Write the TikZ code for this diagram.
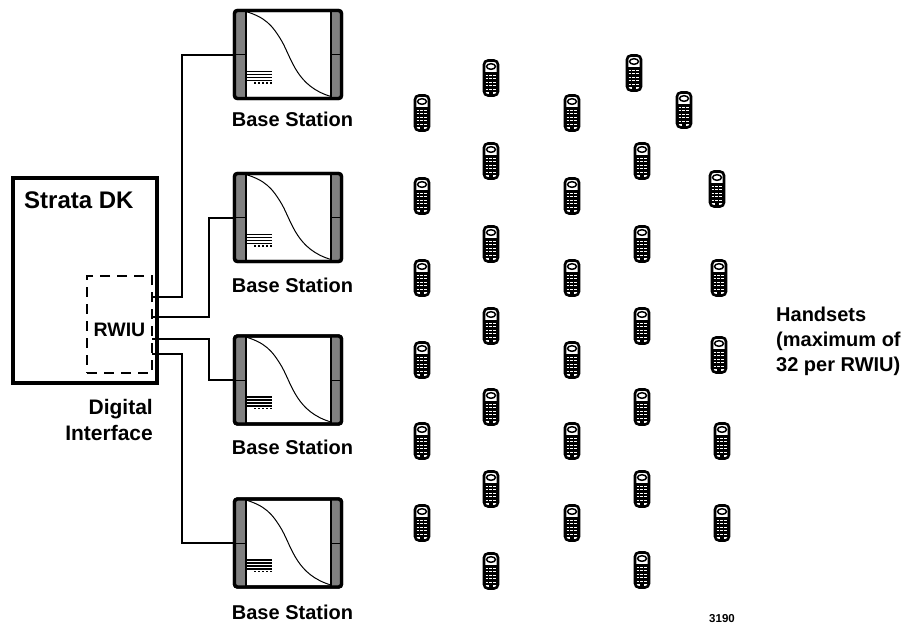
\documentclass[tikz,border=0pt]{standalone}
\usepackage{fontspec}
\setmainfont{Liberation Sans}
\usetikzlibrary{positioning}
\tikzset{
  basebox/.style={draw, line width=3.4pt, rounded corners=3pt, minimum width=107pt, minimum height=88pt, inner sep=0pt},
  label/.style={font=\bfseries\fontsize{20}{25}\selectfont, align=left, inner sep=0pt},
  wire/.style={line width=2pt},
  pics/handset/.style={code={
    \draw[line width=2.6pt, rounded corners=4pt, fill=white] (-7,-17.5) rectangle (7,17.5);
    \fill (-7,-6.5) rectangle (7,13.5);
    \draw[line width=1.5pt] (0,-11.5) ellipse (4.5pt and 2.8pt);
    \foreach \row in {-3,0.5,4,7.5,11}
      \draw[white, line width=0.7pt, dash pattern=on 2.4pt off 1.4pt] (-5.5,\row) -- (5.5,\row);
    \fill (-2,14) rectangle (2,17);
  }}
}
\begin{document}
\begin{tikzpicture}[x=1pt, y=-1pt]
  \useasboundingbox (0,0) rectangle (904,624);

  \node[draw, line width=4pt, minimum width=144pt, minimum height=205pt, inner sep=0pt] (dk) at (84.5,280) {};
  \node[label, font=\bfseries\fontsize{24}{28}\selectfont, anchor=west] (dkname) at (24,200) {Strata DK};
  \node[draw, dash pattern=on 10pt off 7pt, line width=1.6pt, minimum width=65pt, minimum height=97pt, inner sep=0pt] (rwiu) at (119.5,324.5) {};
  \node[label, font=\bfseries\fontsize{19.5}{24}\selectfont] (rwiuname) at (119.5,330) {RWIU};
  \node[label, font=\bfseries\fontsize{21}{26}\selectfont, align=right, anchor=north east] (digital) at (153,399) {Digital\\Interface};

  \foreach \i/\ypos/\ylabel in {1/54.5/119, 2/217.5/285, 3/380/447, 4/543/612} {
    \node[basebox] (bs\i) at (288,\ypos) {};
    \fill[black!50] (235,\ypos-43) rectangle (246,\ypos+43);
    \fill[black!50] (331,\ypos-43) rectangle (341,\ypos+43);
    \draw[line width=1.2pt] (246,\ypos-44) -- (246,\ypos+44);
    \draw[line width=1.2pt] (331,\ypos-44) -- (331,\ypos+44);
    \draw[line width=1pt] (235,\ypos) -- (246,\ypos);
    \draw[line width=1pt] (331,\ypos) -- (341,\ypos);
    \node[basebox] at (288,\ypos) {};
    \draw[line width=1pt] (246,\ypos-43) .. controls (265,\ypos-37) and (272,\ypos-30) .. (282,\ypos-13)
      .. controls (292,\ypos+5) and (297,\ypos+32) .. (331,\ypos+42);
    \foreach \off in {17,20,23,26}
      \draw[line width=1.1pt] (246,\ypos+\off) -- (272,\ypos+\off);
    \draw[line width=1.4pt, dash pattern=on 2pt off 2pt] (254,\ypos+28.5) -- (272,\ypos+28.5);
    \node[label] (bslabel\i) at (292.5,\ylabel) {Base Station};
  }

  \coordinate (out1) at (152,297);
  \coordinate (out2) at (152,317);
  \coordinate (out3) at (152,339);
  \coordinate (out4) at (152,354);
  \draw[wire] (out1) -- (182,297) |- (bs1.west);
  \draw[wire] (out2) -- (209,317) |- (bs2.west);
  \draw[wire] (out3) -- (209,339) |- (bs3.west);
  \draw[wire] (out4) -- (182,354) |- (bs4.west);

  \foreach \x/\y in {422/113, 491/78, 572/113, 634/73, 684/110,
                     422/196, 491/161, 572/196, 642/161, 717/189,
                     422/278, 491/244, 572/278, 642/244, 719/278,
                     422/360, 491/326, 572/360, 642/326, 719/355,
                     422/441, 491/407, 572/441, 642/407, 722/441,
                     422/523, 491/489, 572/523, 642/489, 722/523,
                     491/571, 642/570}
    \pic at (\x,\y) {handset};

  \node[label, anchor=north west] (handsets) at (776,307) {Handsets\\(maximum of\\32 per RWIU)};
  \node[label, font=\bfseries\fontsize{11.5}{14}\selectfont] (fignum) at (722,619) {3190};
\end{tikzpicture}
\end{document}
